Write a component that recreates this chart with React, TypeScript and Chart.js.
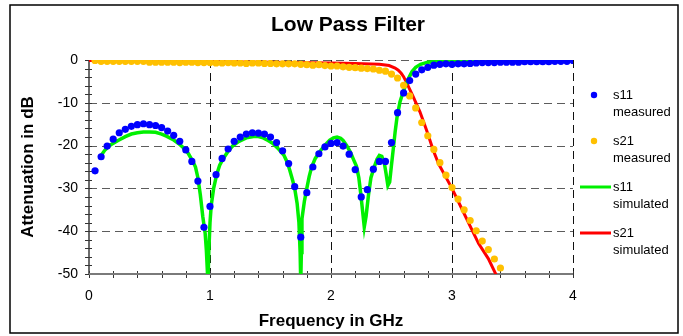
import { useEffect, useRef } from 'react';
import { Chart, registerables } from 'chart.js';

Chart.register(...registerables);

// ---- data ----
const measFreq = [
  0.05, 0.1, 0.15, 0.2, 0.25, 0.3, 0.35, 0.4, 0.45, 0.5, 0.55, 0.6, 0.65, 0.7, 0.75, 0.8, 0.85, 0.9, 0.95,
  1.0, 1.05, 1.1, 1.15, 1.2, 1.25, 1.3, 1.35, 1.4, 1.45, 1.5, 1.55, 1.6, 1.65, 1.7, 1.75, 1.8, 1.85, 1.9, 1.95,
  2.0, 2.05, 2.1, 2.15, 2.2, 2.25, 2.3, 2.35, 2.4, 2.45, 2.5, 2.55, 2.6, 2.65, 2.7, 2.75, 2.8, 2.85, 2.9, 2.95,
  3.0, 3.05, 3.1, 3.15, 3.2, 3.25, 3.3, 3.35, 3.4, 3.45, 3.5, 3.55, 3.6, 3.65, 3.7, 3.75, 3.8, 3.85, 3.9, 3.95,
  4.0,
];

const s11Measured = [
  -25.9, -22.6, -20.1, -18.5, -17.0, -16.2, -15.5, -15.1, -14.9, -15.1, -15.3, -15.8, -16.6, -17.6, -19.0, -21.0, -23.7, -28.3, -39.1,
  -34.2, -26.8, -23.0, -20.8, -19.0, -18.0, -17.3, -17.0, -17.1, -17.3, -18.0, -19.3, -21.2, -24.2, -29.6, -41.4, -31.0, -25.0, -21.9, -20.3,
  -19.5, -19.3, -20.1, -22.0, -25.6, -32.0, -30.3, -25.5, -23.7, -23.7, -19.3, -12.3, -7.7, -4.8, -3.3, -2.3, -1.7, -1.2, -1.0, -0.9,
  -1.0, -0.9, -0.9, -0.8, -0.7, -0.6, -0.6, -0.6, -0.5, -0.5, -0.5, -0.5, -0.4, -0.4, -0.4, -0.4, -0.4, -0.3, -0.3, -0.3,
  -0.1,
];

const s21Measured = [
  -0.1, -0.3, -0.3, -0.3, -0.3, -0.3, -0.3, -0.3, -0.3, -0.5, -0.5, -0.5, -0.5, -0.5, -0.6, -0.5, -0.5, -0.6, -0.6,
  -0.6, -0.7, -0.7, -0.6, -0.7, -0.7, -0.8, -0.7, -0.7, -0.8, -0.8, -0.9, -0.9, -0.9, -0.9, -1.0, -1.1, -1.2, -1.1, -1.3,
  -1.4, -1.4, -1.6, -1.7, -1.8, -1.9, -2.0, -2.1, -2.4, -2.6, -3.3, -4.2, -5.9, -8.4, -11.2, -14.6, -17.7, -20.9, -24.0, -26.9,
  -29.8, -32.5, -35.0, -37.5, -39.9, -42.3, -44.3, -46.5, -48.6,
];

const s11SimFreq = [
  0.1, 0.13, 0.18, 0.24, 0.3, 0.35, 0.4, 0.45, 0.5, 0.55, 0.6, 0.64, 0.7, 0.74, 0.78, 0.82, 0.86, 0.88, 0.9, 0.92,
  0.94, 0.96, 0.97, 0.983, 0.99, 1.0, 1.01, 1.03, 1.055, 1.08, 1.11, 1.15, 1.19, 1.24, 1.3, 1.36, 1.4, 1.44, 1.48,
  1.52, 1.56, 1.61, 1.64, 1.66, 1.68, 1.7, 1.72, 1.735, 1.745, 1.75, 1.755, 1.76, 1.78, 1.8, 1.82, 1.84, 1.87, 1.91,
  1.95, 1.99, 2.02, 2.05, 2.08, 2.1, 2.13, 2.16, 2.19, 2.21, 2.23, 2.245, 2.26, 2.275, 2.29, 2.31, 2.33, 2.36, 2.38,
  2.4, 2.42, 2.44, 2.455, 2.47, 2.485, 2.5, 2.515, 2.53, 2.545, 2.57, 2.59, 2.61, 2.64, 2.67, 2.7, 2.74, 2.8, 2.9,
  3.0, 3.5, 4.0,
];
const s11Simulated = [
  -22.3, -21.1, -19.8, -18.8, -17.9, -17.3, -17.0, -16.8, -16.8, -16.9, -17.3, -17.8, -18.7, -19.5, -20.5, -21.8, -23.8, -25.0, -27.5, -31.5,
  -36.5, -40.5, -44.5, -52.0, -45.0, -38.0, -34.0, -30.0, -26.8, -24.6, -23.0, -21.3, -20.0, -19.0, -18.2, -17.9, -17.9, -18.2, -18.8,
  -19.5, -20.6, -22.2, -24.0, -25.8, -27.8, -30.0, -33.5, -38.0, -45.0, -52.0, -45.0, -37.1, -33.0, -30.0, -27.2, -25.0, -23.0, -21.3,
  -19.9, -18.7, -18.2, -18.0, -18.3, -18.8, -20.0, -21.5, -23.5, -24.8, -27.5, -31.0, -35.0, -39.0, -36.5, -31.5, -27.5, -24.8, -23.2,
  -22.3, -22.5, -24.0, -26.5, -29.3, -28.5, -24.5, -20.7, -16.8, -13.5, -9.8, -8.0, -6.4, -4.3, -2.7, -1.7, -1.0, -0.5, -0.3,
  -0.2, -0.1, 0.0,
];

const s21SimFreq = [
  0.0, 0.5, 1.0, 1.5, 2.0, 2.2, 2.4, 2.48, 2.53, 2.556, 2.58, 2.6, 2.62, 2.64, 2.68, 2.735, 2.79, 2.845, 2.89, 2.94,
  3.0, 3.08, 3.16, 3.22, 3.3, 3.37,
];
const s21Simulated = [
  -0.1, -0.3, -0.4, -0.5, -0.7, -0.8, -1.0, -1.3, -1.9, -2.4, -3.1, -3.9, -5.0, -6.2, -8.6, -12.1, -16.4, -21.1, -24.3, -26.9,
  -30.0, -34.7, -39.4, -42.9, -46.4, -50.5,
];

const seriesLabels = ['s11 measured', 's21 measured', 's11 simulated', 's21 simulated'];
const xGridValues = [1, 2, 3, 4];
const yGridValues = [0, -10, -20, -30, -40];

const titleText = 'Low Pass Filter';
const xTitle = 'Frequency in GHz';
const yTitle = 'Attenuation in dB';

const FONT = "'Liberation Sans', Arial, sans-serif";

const zip = (xs: number[], ys: number[]) => ys.map((y, i) => ({ x: xs[i], y }));

const framePlugin = {
  id: 'frame',
  beforeDatasetsDraw(chart: any) {
    const { ctx, chartArea: a, scales } = chart;
    const x = scales.x;
    const y = scales.y;
    ctx.save();
    ctx.lineWidth = 1;
    ctx.setLineDash([8, 5]);
    for (const v of yGridValues) {
      const py = Math.round(y.getPixelForValue(v)) + 0.5;
      ctx.strokeStyle = '#5c5c5c';
      ctx.beginPath();
      ctx.moveTo(a.left, py);
      ctx.lineTo(a.right, py);
      ctx.stroke();
    }
    for (const v of xGridValues) {
      const px = Math.round(x.getPixelForValue(v)) + 0.5;
      ctx.strokeStyle = '#111';
      ctx.beginPath();
      ctx.moveTo(px, a.top);
      ctx.lineTo(px, a.bottom);
      ctx.stroke();
    }
    ctx.setLineDash([]);
    // minor/major ticks crossing axes
    ctx.lineWidth = 1;
    ctx.strokeStyle = '#333';
    for (let i = 0; i <= 20; i++) {
      const px = Math.round(x.getPixelForValue(i * 0.2)) + 0.5;
      ctx.beginPath();
      ctx.moveTo(px, a.bottom - 3);
      ctx.lineTo(px, a.bottom + 4);
      ctx.stroke();
    }
    for (let i = 0; i <= 25; i++) {
      const py = Math.round(y.getPixelForValue(-i * 2)) + 0.5;
      ctx.beginPath();
      ctx.moveTo(a.left - 4, py);
      ctx.lineTo(a.left + 3, py);
      ctx.stroke();
    }
    // axes
    ctx.strokeStyle = '#3a3a3a';
    ctx.lineWidth = 1.5;
    ctx.beginPath();
    ctx.moveTo(a.left, a.top);
    ctx.lineTo(a.left, a.bottom);
    ctx.stroke();
    ctx.strokeStyle = '#7a7a7a';
    ctx.lineWidth = 2;
    ctx.beginPath();
    ctx.moveTo(a.left, a.bottom);
    ctx.lineTo(a.right, a.bottom);
    ctx.stroke();
    ctx.restore();
  },
  afterDraw(chart: any) {
    const { ctx } = chart;
    ctx.save();
    // outer border
    ctx.strokeStyle = '#000';
    ctx.lineWidth = 1.5;
    ctx.strokeRect(10, 5, 668, 328);
    // title
    ctx.fillStyle = '#000';
    ctx.font = `bold 21px ${FONT}`;
    ctx.textAlign = 'center';
    ctx.textBaseline = 'middle';
    ctx.fillText(titleText, 348, 25);
    // legend
    const ds = chart.data.datasets;
    const rows = [95, 141, 187, 233];
    ctx.font = `13px ${FONT}`;
    ctx.textAlign = 'left';
    ds.forEach((d: any, i: number) => {
      const cy = rows[i];
      if (i < 2) {
        ctx.fillStyle = d.backgroundColor;
        ctx.beginPath();
        ctx.arc(594, cy, 3.2, 0, Math.PI * 2);
        ctx.fill();
      } else {
        ctx.strokeStyle = d.borderColor;
        ctx.lineWidth = 3;
        ctx.beginPath();
        ctx.moveTo(580, cy);
        ctx.lineTo(611, cy);
        ctx.stroke();
      }
      const parts = String(d.label).split(' ');
      ctx.fillStyle = '#000';
      ctx.fillText(parts[0], 613, cy);
      ctx.fillText(parts[1], 613, cy + 17);
    });
    ctx.restore();
  },
};

export default function App() {
  const ref = useRef<HTMLCanvasElement | null>(null);
  useEffect(() => {
    if (!ref.current) return;
    const chart = new Chart(ref.current, {
      type: 'scatter',
      data: {
        datasets: [
          {
            label: seriesLabels[0],
            data: zip(measFreq, s11Measured),
            showLine: false,
            pointRadius: 3.6,
            pointBorderWidth: 0,
            backgroundColor: '#0000ff',
            borderColor: '#0000ff',
          },
          {
            label: seriesLabels[1],
            data: zip(measFreq, s21Measured),
            showLine: false,
            pointRadius: 3.6,
            pointBorderWidth: 0,
            backgroundColor: '#ffc000',
            borderColor: '#ffc000',
          },
          {
            label: seriesLabels[2],
            data: zip(s11SimFreq, s11Simulated),
            showLine: true,
            pointRadius: 0,
            borderWidth: 3.5,
            borderColor: '#00f000',
            backgroundColor: '#00f000',
            tension: 0,
          },
          {
            label: seriesLabels[3],
            data: zip(s21SimFreq, s21Simulated),
            showLine: true,
            pointRadius: 0,
            borderWidth: 3,
            borderColor: '#ff0000',
            backgroundColor: '#ff0000',
            tension: 0,
          },
        ],
      },
      options: {
        animation: false,
        responsive: false,
        devicePixelRatio: 1,
        layout: { padding: { left: 10, right: 110, top: 60, bottom: 3 } },
        plugins: { legend: { display: false }, title: { display: false }, tooltip: { enabled: false } },
        events: [],
        scales: {
          x: {
            type: 'linear',
            min: 0,
            max: 4,
            grid: { display: false, drawTicks: false },
            border: { display: false },
            ticks: { stepSize: 1, padding: 14, color: '#000', font: { family: FONT, size: 14 } },
            title: {
              display: true,
              text: xTitle,
              color: '#000',
              font: { family: FONT, size: 17, weight: 'bold' },
              padding: { top: 0, bottom: 1 },
            },
            afterFit: (s: any) => {
              s.height = 59;
            },
          },
          y: {
            type: 'linear',
            min: -50,
            max: 0,
            grid: { display: false, drawTicks: false },
            border: { display: false },
            ticks: { stepSize: 10, padding: 11, color: '#000', font: { family: FONT, size: 14 } },
            title: {
              display: true,
              text: yTitle,
              color: '#000',
              font: { family: FONT, size: 17, weight: 'bold' },
              padding: { top: 8, bottom: 0 },
            },
            afterFit: (s: any) => {
              s.width = 79;
            },
          },
        },
      } as any,
      plugins: [framePlugin],
    });
    return () => chart.destroy();
  }, []);
  return (
    <div style={{ position: 'absolute', left: 0, top: 0, width: 683, height: 336, background: '#fff' }}>
      <canvas ref={ref} width={683} height={336} style={{ display: 'block', width: 683, height: 336 }} />
    </div>
  );
}
